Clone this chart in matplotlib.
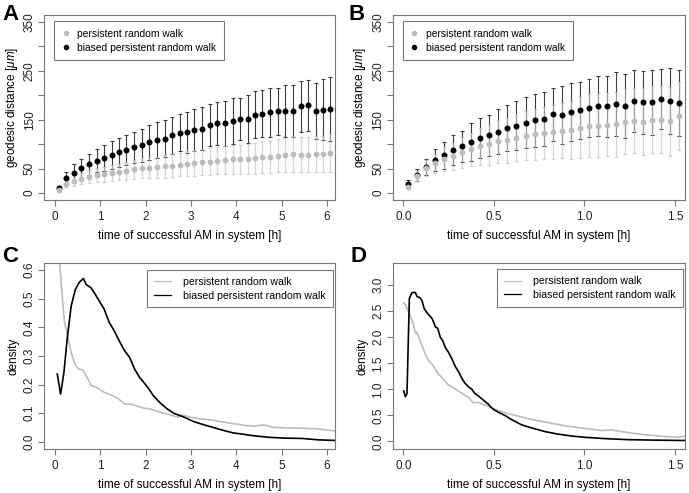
import matplotlib.pyplot as plt

plt.rcParams['font.family'] = ['Liberation Sans', 'DejaVu Sans']
plt.rcParams['mathtext.fontset'] = 'custom'
plt.rcParams['mathtext.it'] = 'Liberation Sans:italic'
plt.rcParams['mathtext.rm'] = 'Liberation Sans'

# ---- panel A: geodesic distance, 10 min bins ----
t_a = [0.08, 0.25, 0.42, 0.58, 0.75, 0.92, 1.08, 1.25, 1.42, 1.58, 1.75, 1.92, 2.08,
       2.25, 2.42, 2.58, 2.75, 2.92, 3.08, 3.25, 3.42, 3.58, 3.75, 3.92, 4.08, 4.25,
       4.42, 4.58, 4.75, 4.92, 5.08, 5.25, 5.42, 5.58, 5.75, 5.92, 6.08, 6.25]
biased_a = [10, 30.5, 41.9, 50.8, 58.9, 66.2, 71.7, 77.8, 83.2, 88.6, 93.4, 98.1, 103.6,
            108.3, 110.9, 117.8, 123.9, 124.5, 129.2, 132, 138.7, 142.8, 142.8, 147.5,
            151.5, 151.5, 160.4, 162.5, 165.7, 167.8, 167.8, 167.8, 177.3, 179.4, 167.8,
            170.6, 171.9, 171.2]
biased_a_sd = [5, 12.2, 16.9, 19, 21.7, 23, 25.7, 28.4, 29.8, 31.1, 32.5, 33.9, 36.6, 37.2,
               37.9, 37.9, 38.6, 42, 43.3, 43.3, 42.7, 44, 46, 46.7, 43.3, 50, 48, 48.7,
               50, 48, 54, 53.5, 52.8, 51.4, 57.5, 63, 66.3, 67]
prw_a = [6.7, 18.9, 24.4, 29.8, 33.8, 37.2, 38.6, 41.2, 43.3, 45.3, 48.7, 50.8, 52.1,
         52.8, 54.8, 56.1, 58.1, 60.1, 60.9, 63.6, 64.3, 66.3, 67.7, 69, 69, 70.4, 71,
         73.7, 74.4, 76.4, 78.5, 79.2, 78.5, 78.5, 79.9, 79.2, 81.9, 81.9]
prw_a_sd = [3, 7, 9, 11, 13, 14, 15, 16, 17, 18, 19, 20, 21, 22, 23, 24, 24, 25, 26, 27,
            27, 28, 29, 30, 30, 31, 32, 32, 33, 34, 35, 35, 36, 36, 37, 37, 38, 38]

# ---- panel B: geodesic distance, 3 min bins ----
t_b = [0.025, 0.075, 0.125, 0.175, 0.225, 0.275, 0.325, 0.375, 0.425, 0.475, 0.525,
       0.575, 0.625, 0.675, 0.725, 0.775, 0.825, 0.875, 0.925, 0.975, 1.025, 1.075,
       1.125, 1.175, 1.225, 1.275, 1.325, 1.375, 1.425, 1.475, 1.525]
biased_b = [18.9, 36.5, 54, 67.6, 77.1, 87.9, 96, 104.8, 112.9, 118.4, 125.9, 133.2,
            137.3, 144.2, 148.9, 151.6, 161, 159.6, 165.7, 169.8, 173.9, 177.9, 177.3,
            182.8, 177.9, 188.9, 186, 185.4, 192.1, 188.1, 184]
biased_b_sd = [7.4, 12.2, 16.2, 21.7, 27.8, 30.5, 31.8, 38.6, 40.6, 42, 46, 47.4, 50, 52,
               54, 54.8, 54, 58.9, 59.6, 58.2, 59.6, 61, 63, 65.7, 65.7, 63.6, 64.3,
               66.3, 61.6, 67.7, 67]
prw_b = [13, 35.1, 51.4, 60.9, 69.7, 75.1, 83.2, 89.3, 95.4, 99.5, 105.6, 108.3, 112.9,
         117, 120.4, 122.5, 124.5, 127.9, 128.6, 134, 138, 138, 140.1, 140.7, 146.2,
         148.2, 146.2, 150.3, 150.3, 146.8, 157.6]
prw_b_sd = [5, 10, 16, 20, 24, 27, 31, 34, 38, 41, 44, 46, 48, 50, 52, 53, 55, 57, 59,
            62, 64, 64, 65, 66, 66, 67, 68, 68, 69, 70, 70]

# ---- panel C: density, long run ----
c_biased_t = [0.053, 0.126, 0.2, 0.27, 0.36, 0.45, 0.54, 0.63, 0.69, 0.8, 0.87, 0.98,
              1.09, 1.2, 1.31, 1.42, 1.54, 1.65, 1.76, 1.87, 1.95, 2.05, 2.18, 2.33,
              2.48, 2.62, 2.84, 3.06, 3.28, 3.5, 3.72, 3.94, 4.1, 4.35, 4.71, 5.08, 5.45,
              5.81, 6.18, 6.25]
c_biased_d = [0.237, 0.167, 0.243, 0.358, 0.475, 0.532, 0.558, 0.571, 0.55, 0.538, 0.521,
              0.492, 0.463, 0.417, 0.388, 0.353, 0.318, 0.295, 0.254, 0.225, 0.21, 0.19,
              0.16, 0.135, 0.115, 0.1, 0.087, 0.071, 0.06, 0.05, 0.04, 0.031, 0.028,
              0.022, 0.016, 0.013, 0.012, 0.007, 0.005, 0.005]
c_prw_t = [0.06, 0.1, 0.14, 0.18, 0.21, 0.29, 0.36, 0.43, 0.51, 0.62, 0.69, 0.8, 0.95,
           1.09, 1.24, 1.39, 1.54, 1.68, 1.83, 1.96, 2.11, 2.33, 2.55, 2.73, 2.81, 2.99,
           3.21, 3.43, 3.65, 3.87, 4.07, 4.2, 4.42, 4.57, 4.68, 4.79, 5.08, 5.45, 5.81,
           6.18, 6.25]
c_prw_d = [0.95, 0.64, 0.556, 0.475, 0.422, 0.364, 0.312, 0.277, 0.256, 0.25, 0.231,
           0.198, 0.187, 0.173, 0.164, 0.152, 0.132, 0.132, 0.124, 0.118, 0.115, 0.103,
           0.094, 0.086, 0.094, 0.086, 0.08, 0.077, 0.071, 0.065, 0.061, 0.057, 0.055,
           0.059, 0.057, 0.051, 0.049, 0.048, 0.045, 0.038, 0.037]

# ---- panel D: density, short run ----
d_biased_t = [0.002, 0.011, 0.02, 0.033, 0.048, 0.066, 0.076, 0.092, 0.103, 0.115, 0.13,
              0.149, 0.16, 0.177, 0.19, 0.204, 0.218, 0.232, 0.248, 0.269, 0.285, 0.306,
              0.322, 0.34, 0.36, 0.379, 0.395, 0.416, 0.44, 0.453, 0.469, 0.48, 0.497,
              0.525, 0.561, 0.598, 0.653, 0.709, 0.782, 0.856, 0.929, 1.003, 1.114,
              1.242, 1.371, 1.518, 1.56]
d_biased_d = [0.97, 0.86, 0.92, 2.75, 2.86, 2.86, 2.78, 2.76, 2.7, 2.55, 2.47, 2.4, 2.35,
              2.2, 2.17, 2.0, 1.93, 1.8, 1.72, 1.58, 1.45, 1.33, 1.22, 1.12, 1.05, 1.0,
              0.92, 0.87, 0.8, 0.76, 0.72, 0.67, 0.62, 0.56, 0.5, 0.42, 0.32, 0.26, 0.19,
              0.14, 0.105, 0.08, 0.055, 0.035, 0.027, 0.02, 0.02]
d_prw_t = [0.003, 0.012, 0.02, 0.03, 0.04, 0.055, 0.066, 0.074, 0.09, 0.103, 0.12, 0.14,
           0.166, 0.195, 0.23, 0.25, 0.267, 0.306, 0.335, 0.361, 0.387, 0.398, 0.414,
           0.451, 0.47, 0.497, 0.543, 0.598, 0.653, 0.727, 0.819, 0.911, 1.003, 1.095,
           1.15, 1.242, 1.334, 1.445, 1.518, 1.552, 1.56]
d_prw_d = [2.66, 2.62, 2.55, 2.46, 2.4, 2.25, 2.08, 2.1, 1.95, 1.84, 1.68, 1.55, 1.45,
           1.29, 1.16, 1.08, 1.05, 0.96, 0.9, 0.84, 0.74, 0.75, 0.75, 0.7, 0.68, 0.63,
           0.57, 0.52, 0.47, 0.41, 0.35, 0.29, 0.25, 0.21, 0.22, 0.17, 0.13, 0.095, 0.08,
           0.1, 0.1]

labels = ['persistent random walk', 'biased persistent random walk']
GRAY = '#bdbdbd'
FRAME = '#787878'

fig = plt.figure(figsize=(6.89, 4.93), dpi=100)


def px_axes(l, t, r, b):
    return fig.add_axes([l / 689, 1 - b / 493, (r - l) / 689, (b - t) / 493])


def style(ax, yticks, ylabels, xticks, xlabels):
    for s in ax.spines.values():
        s.set_color(FRAME)
        s.set_linewidth(0.8)
    ax.set_xticks(xticks, xlabels)
    ax.set_yticks(yticks, ylabels, rotation=90, va='center')
    ax.tick_params(direction='out', length=4, width=0.8, color=FRAME,
                   labelsize=8.5, labelcolor='#222222')
    ax.tick_params(axis='y', pad=2)
    ax.tick_params(axis='x', pad=4)
    ax.set_xlabel('time of successful AM in system [h]', fontsize=8.5, labelpad=5)


def dist_panel(ax, t, mb, sb, mp, sp):
    ax.errorbar(t, mb, yerr=sb, fmt='none', ecolor='#3c3c3c', elinewidth=0.8,
                capsize=1.6, capthick=0.8, zorder=2)
    ax.errorbar(t, mp, yerr=sp, fmt='none', ecolor='#c4c4c4', elinewidth=0.9,
                capsize=1.6, capthick=0.9, alpha=0.7, zorder=3)
    hb, = ax.plot(t, mb, 'o', color='black', ms=3.3, mec='black', zorder=4)
    hp, = ax.plot(t, mp, 'o', color=GRAY, ms=3.2, mec=GRAY, zorder=5)
    ax.set_ylim(-14, 364)
    ax.set_ylabel(r'geodesic distance [$\mu m$]', fontsize=8.5, labelpad=3)
    leg = ax.legend([hp, hb], labels, loc='upper left', bbox_to_anchor=(0.034, 0.968),
                    borderaxespad=0, fontsize=7.4, frameon=True, fancybox=False,
                    framealpha=1, edgecolor=FRAME, handlelength=0.8,
                    handletextpad=0.7, borderpad=0.75, labelspacing=0.4,
                    markerscale=0.9)
    leg.get_frame().set_linewidth(0.8)


def dens_panel(ax, tp, dp, tb, db, anchor):
    hp, = ax.plot(tp, dp, color=GRAY, lw=1.2, zorder=2)
    hb, = ax.plot(tb, db, color='black', lw=1.2, zorder=3)
    ax.set_ylabel('density', fontsize=8.5, labelpad=3)
    leg = ax.legend([hp, hb], labels, loc='upper right', bbox_to_anchor=anchor,
                    borderaxespad=0, fontsize=7.6, frameon=True, fancybox=False,
                    framealpha=1, edgecolor=FRAME, handlelength=1.6,
                    handletextpad=1.2, borderpad=0.65, labelspacing=0.35)
    leg.get_frame().set_linewidth(0.8)
    for ln in leg.get_lines():
        ln.set_linewidth(0.9)


axA = px_axes(44, 15, 335, 200)
axB = px_axes(392.7, 15, 685, 200)
axC = px_axes(44, 263.3, 335, 449.3)
axD = px_axes(392.7, 263.3, 685, 449.3)

dist_panel(axA, t_a, biased_a, biased_a_sd, prw_a, prw_a_sd)
axA.set_xlim(-0.24, 6.18)
style(axA, [0, 50, 100, 150, 200, 250, 300, 350], ['0', '50', '', '150', '', '250', '', '350'],
      [0, 1, 2, 3, 4, 5, 6], ['0', '1', '2', '3', '4', '5', '6'])

dist_panel(axB, t_b, biased_b, biased_b_sd, prw_b, prw_b_sd)
axB.set_xlim(-0.059, 1.556)
style(axB, [0, 50, 100, 150, 200, 250, 300, 350], ['0', '50', '', '150', '', '250', '', '350'],
      [0, 0.5, 1.0, 1.5], ['0.0', '0.5', '1.0', '1.5'])

dens_panel(axC, c_prw_t, c_prw_d, c_biased_t, c_biased_d, (0.993, 0.964))
axC.set_xlim(-0.24, 6.18)
axC.set_ylim(-0.026, 0.624)
style(axC, [0, 0.1, 0.2, 0.3, 0.4, 0.5, 0.6], ['0.0', '0.1', '0.2', '0.3', '0.4', '0.5', '0.6'],
      [0, 1, 2, 3, 4, 5, 6], ['0', '1', '2', '3', '4', '5', '6'])

dens_panel(axD, d_prw_t, d_prw_d, d_biased_t, d_biased_d, (0.993, 0.967))
axD.set_xlim(-0.059, 1.556)
axD.set_ylim(-0.15, 3.42)
style(axD, [0, 0.5, 1.0, 1.5, 2.0, 2.5, 3.0], ['0.0', '0.5', '1.0', '1.5', '2.0', '2.5', '3.0'],
      [0, 0.5, 1.0, 1.5], ['0.0', '0.5', '1.0', '1.5'])

for letter, x, y in [('A', 2, 20), ('B', 349, 20), ('C', 2, 262), ('D', 350, 262)]:
    fig.text(x / 689, 1 - y / 493, letter, fontsize=16, fontweight='bold', va='baseline')

fig.savefig('out.png', dpi=100)
